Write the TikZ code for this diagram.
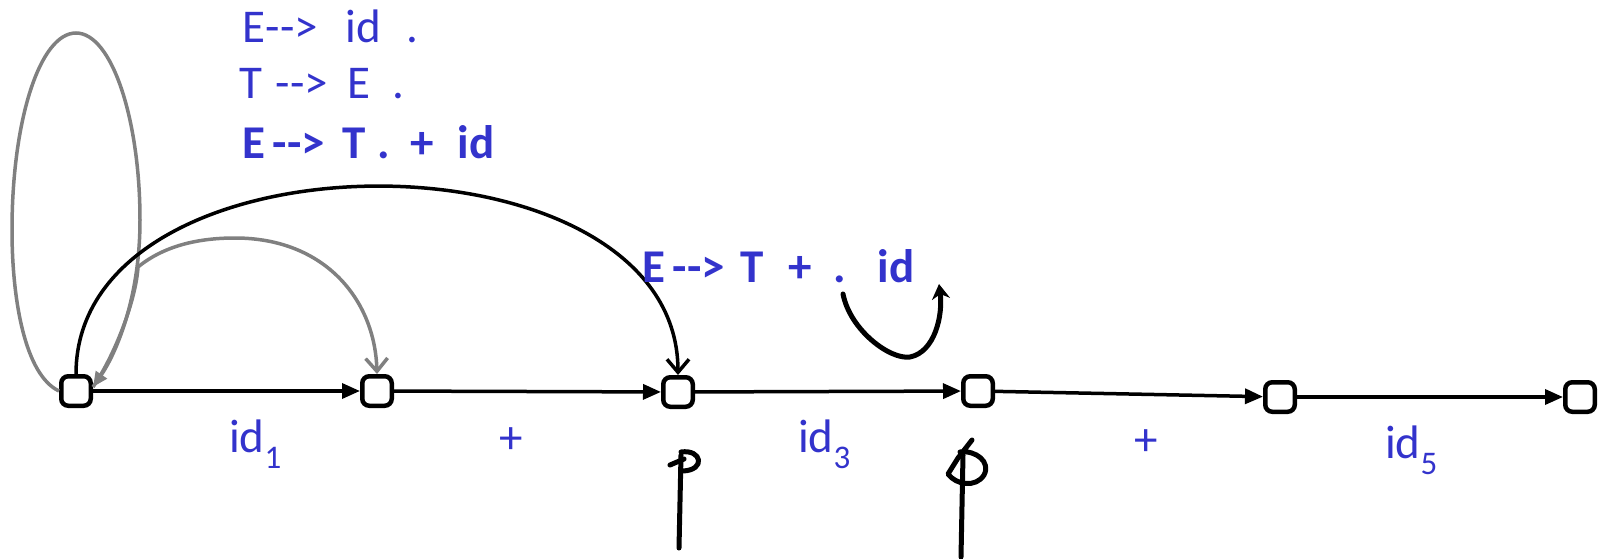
\documentclass[tikz,border=0pt]{standalone}
\usepackage{fontspec}
\setmainfont{Carlito}
\usetikzlibrary{arrows.meta}
\definecolor{lblue}{RGB}{51,51,204}
\definecolor{lgray}{RGB}{128,128,128}
\newcommand\tk[2]{\rlap{\hspace{#1}#2}}
\newcommand\arr{\mbox{-}\mbox{-}>}
\newcommand\sbs[1]{\raisebox{-16pt}{\fontsize{33}{33}\selectfont #1}}
\begin{document}
\begin{tikzpicture}[x=1pt,y=-1pt,
  state/.style={draw,line width=4.5pt,rounded corners=7pt,minimum size=29.5pt,inner sep=0pt,fill=white},
  edge/.style={line width=3.5pt,-{Triangle[length=18pt,width=15pt]}},
  vtip/.style={-{Straight Barb[length=13pt,width=22pt]}},
  lab/.style={text=lblue,font=\fontsize{47}{50}\selectfont,inner sep=0pt,anchor=base west},
  blab/.style={text=lblue,font=\fontsize{47}{50}\selectfont\bfseries,inner sep=0pt,anchor=base west},
  hand/.style={line width=5pt,line cap=round,line join=round}]
\useasboundingbox (0,0) rectangle (1601,559);
% states
\node[state] (n1) at (76,391) {};
\node[state] (n2) at (377,391) {};
\node[state] (n3) at (678,392) {};
\node[state] (n4) at (978,391) {};
\node[state] (n5) at (1280,397) {};
\node[state] (n6) at (1580,397) {};
% main edges
\draw[edge] (n1) -- (n2);
\draw[edge] (n2) -- (n3);
\draw[edge] (n3) -- (n4);
\draw[edge] (n4) -- (n5);
\draw[edge] (n5) -- (n6);
% gray loop on n1
\draw[lgray,line width=3.5pt,-{Triangle[length=15pt,width=13pt]}]
  (n1.west) .. controls (25,375) and (12,300) .. (12,230)
  .. controls (12,120) and (40,33) .. (76,33)
  .. controls (112,33) and (140,120) .. (140,220)
  .. controls (140,300) and (115,355) .. ([yshift=4pt]n1.east);
% gray arc n1 -> n2
\draw[lgray,line width=3.5pt,vtip]
  ([yshift=4pt]n1.east) .. controls (115,355) and (136,300) .. (138,267)
  .. controls (165,245) and (200,238) .. (235,238)
  .. controls (325,238) and (375,300) .. (n2.north);
% black arc n1 -> n3
\draw[line width=3.5pt,vtip]
  (n1.north) .. controls (76,124) and (678,124) .. (n3.north);
% item texts
\node[lab] (t1) at (242,43) {\tk{0pt}{E\arr}\tk{103pt}{id}\tk{164pt}{.}};
\node[lab] (t2) at (239,99) {\tk{0pt}{T}\tk{36pt}{\arr}\tk{108pt}{E}\tk{153pt}{.}};
\node[blab] (t3) at (242,158) {\tk{0pt}{E}\tk{30pt}{\arr}\tk{100pt}{T}\tk{135pt}{.}\tk{168pt}{+}\tk{215pt}{id}};
\node[blab] (t4) at (642,282) {\tk{0pt}{E}\tk{30pt}{\arr}\tk{98pt}{T}\tk{146pt}{+}\tk{191pt}{.}\tk{235pt}{id}};
% edge labels
\node[lab] (l1) at (229,452) {id\sbs{1}};
\node[lab,anchor=center] (l2) at (511,441) {+};
\node[lab] (l3) at (798,452) {id\sbs{3}};
\node[lab,anchor=center] (l4) at (1146,443) {+};
\node[lab] (l5) at (1385,458) {id\sbs{5}};
% hand-drawn curved arrow
\draw[hand,-{Stealth[length=15pt,width=18pt]}]
  (843,294) .. controls (850,330) and (890,360) .. (910,357)
  .. controls (935,352) and (943,315) .. (939,284);
% hand-drawn marker under n3
\draw[hand] (681,455) -- (679,548);
\draw[hand] (681,452) .. controls (702,449) and (706,470) .. (683,471);
\draw[hand] (670,465) -- (684,459);
% hand-drawn marker under n4
\draw[hand] (963,455) -- (961,557);
\draw[hand] (972,440) -- (958,458) -- (948,474)
  .. controls (956,485) and (976,488) .. (984,475)
  .. controls (991,462) and (976,450) .. (960,452);
\end{tikzpicture}
\end{document}
